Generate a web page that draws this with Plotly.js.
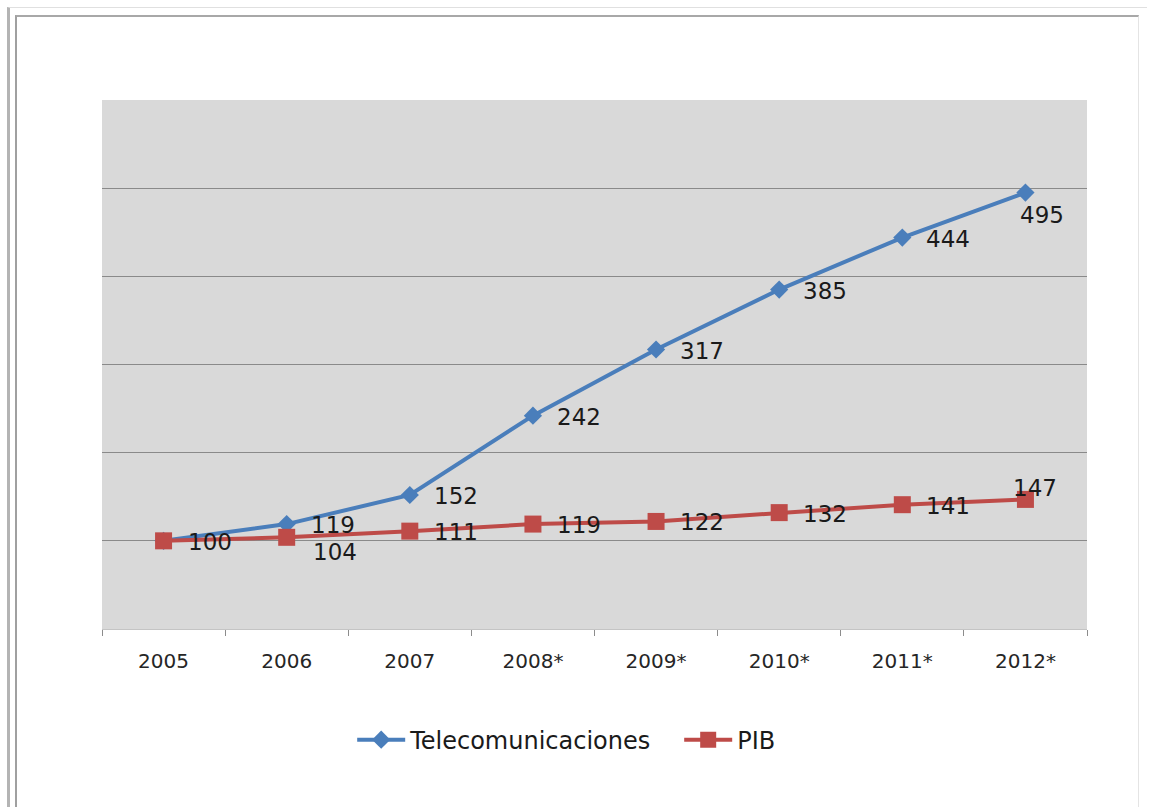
<!DOCTYPE html>
<html>
<head>
<meta charset="utf-8">
<script src="https://cdn.plot.ly/plotly-3.0.1.min.js"></script>
<style>
  html, body { margin: 0; padding: 0; background: #ffffff; width: 1154px; height: 807px; overflow: hidden; }
  #frameOuter { position: absolute; left: 7px; top: 7px; width: 1140px; height: 820px;
    border-left: 3px solid #b4b4b4; border-top: 1px solid #e0e0e0; box-sizing: border-box; }
  #frameInner { position: absolute; left: 15px; top: 15px; width: 1124px; height: 820px;
    border-left: 2px solid #a0a0a0; border-top: 2px solid #a8a8a8; border-right: 1px solid #e4e4e4; box-sizing: border-box; }
  #chart { position: absolute; left: 0; top: 0; width: 1154px; height: 807px; }
</style>
</head>
<body>
<div id="frameOuter"></div>
<div id="frameInner"></div>
<div id="chart"></div>
<script>
const years = ["2005", "2006", "2007", "2008*", "2009*", "2010*", "2011*", "2012*"];
const telecom = [100, 119, 152, 242, 317, 385, 444, 495];
const pib = [100, 104, 111, 119, 122, 132, 141, 147];
const seriesNames = ["Telecomunicaciones", "PIB"];

// label offsets in pixels (style only): [xshift, yshift]; the 2005 Telecom label coincides with PIB's
const telecomLabelShift = [null, [22, -1], [22, -1], [22, -1], [22, -1], [22, -1], [22, -1], [-7, -22]];
const pibLabelShift = [[22, -1], [24, -15], [22, -1], [22, -1], [22, -1], [22, -1], [22, -1], [-14, 11]];

const labelFont = { family: "DejaVu Sans, sans-serif", size: 23, color: "#1a1a1a" };

const traces = [
  {
    x: years, y: telecom, name: seriesNames[0], type: "scatter", mode: "lines+markers",
    line: { color: "#4a7ebb", width: 4 },
    marker: { symbol: "diamond", size: 14, color: "#4a7ebb" }
  },
  {
    x: years, y: pib, name: seriesNames[1], type: "scatter", mode: "lines+markers",
    line: { color: "#be4b48", width: 4 },
    marker: { symbol: "square", size: 17, color: "#be4b48" }
  }
];

function labels(values, shifts) {
  const out = [];
  values.forEach((v, i) => {
    if (!shifts[i]) return;
    out.push({
      x: i, y: v, xref: "x", yref: "y", text: String(v), showarrow: false,
      xanchor: "left", yanchor: "middle", xshift: shifts[i][0], yshift: shifts[i][1],
      font: labelFont
    });
  });
  return out;
}

const layout = {
  width: 1154, height: 807,
  margin: { l: 102, r: 67, t: 100, b: 178 },
  paper_bgcolor: "rgba(0,0,0,0)",
  plot_bgcolor: "#d9d9d9",
  showlegend: true,
  legend: {
    orientation: "h", x: 0.254, xanchor: "left", y: -0.21, yanchor: "middle",
    font: { family: "DejaVu Sans, sans-serif", size: 24, color: "#1a1a1a" },
    bgcolor: "rgba(0,0,0,0)", itemwidth: 48, entrywidth: 264, entrywidthmode: "pixels"
  },
  xaxis: {
    type: "category", tickson: "boundaries", ticks: "outside", ticklen: 6, tickcolor: "#8c8c8c",
    showgrid: false, showline: true, linecolor: "#c4c4c4", linewidth: 1,
    tickfont: { family: "DejaVu Sans, sans-serif", size: 20, color: "#262626" },
    ticklabelstandoff: 14,
    range: [-0.5, 7.5], fixedrange: true
  },
  yaxis: {
    range: [0, 600], dtick: 100, showticklabels: false, ticks: "",
    showgrid: true, gridcolor: "#8a8a8a", gridwidth: 1,
    zeroline: false, showline: false, fixedrange: true
  },
  annotations: labels(telecom, telecomLabelShift).concat(labels(pib, pibLabelShift))
};

Plotly.newPlot("chart", traces, layout, { displayModeBar: false, staticPlot: true });
</script>
</body>
</html>
